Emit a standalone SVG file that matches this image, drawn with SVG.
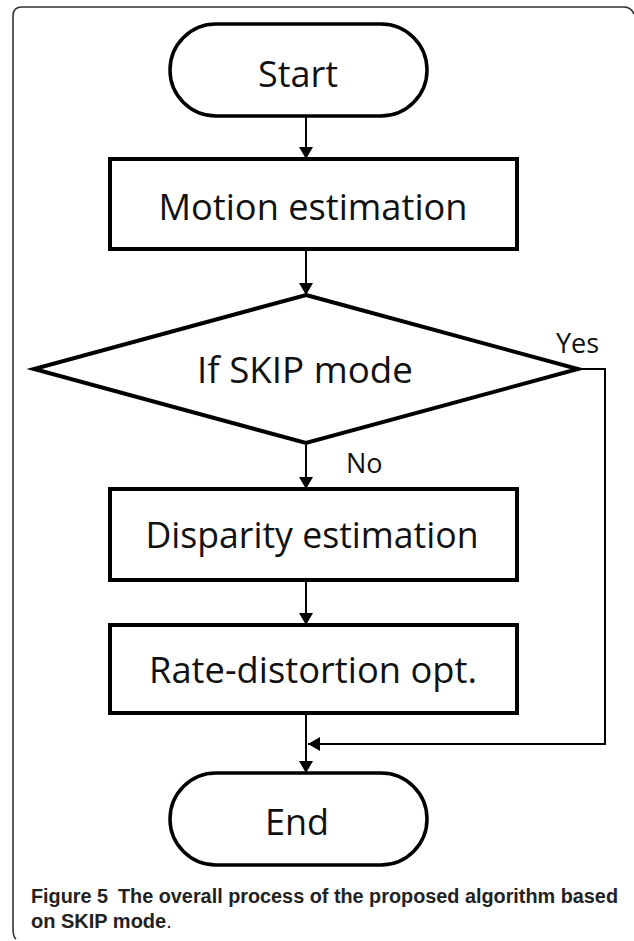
<svg xmlns="http://www.w3.org/2000/svg" width="634" height="941" viewBox="0 0 634 941">
<defs>
<style>
.shape{fill:#fff;stroke:#000;stroke-width:4}
.pill{fill:#fff;stroke:#000;stroke-width:3.5}
.lbl{font-family:"Open Sans","Noto Sans",sans-serif;font-size:36px;fill:#111;text-anchor:middle}
.small{font-family:"Open Sans","Noto Sans",sans-serif;font-size:27px;fill:#111}
.conn{fill:none;stroke:#000;stroke-width:2}
.cap{font-family:"Liberation Sans",Arial,sans-serif;font-size:20px;fill:#222;font-weight:700}
</style>
<marker id="ah" viewBox="0 0 12 14" refX="12" refY="7" markerWidth="12" markerHeight="14" markerUnits="userSpaceOnUse" orient="auto">
<path d="M0,0 L12,7 L0,14 Z" fill="#000"/>
</marker>
</defs>
<rect width="634" height="941" fill="#fff"/>
<path d="M634,14 Q631,7 624,7 H22 Q13,7 13,16 V928 Q13,937 16,939" fill="none" stroke="#333" stroke-width="1.6"/>
<g id="connectors">
<line class="conn" x1="306" y1="117" x2="306" y2="159" marker-end="url(#ah)"/>
<line class="conn" x1="306" y1="251" x2="306" y2="295" marker-end="url(#ah)"/>
<line class="conn" x1="306" y1="445" x2="306" y2="489" marker-end="url(#ah)"/>
<line class="conn" x1="306" y1="582" x2="306" y2="625" marker-end="url(#ah)"/>
<line class="conn" x1="306" y1="715" x2="306" y2="773" marker-end="url(#ah)"/>
<polyline class="conn" points="578,369 605,369 605,744 308,744" marker-end="url(#ah)"/>
<text class="small" x="556" y="353">Yes</text>
<text class="small" x="346" y="473">No</text>
</g>
<g id="start">
<rect class="pill" x="170" y="24" width="257" height="92" rx="46" ry="46"/>
<text class="lbl" x="298" y="87">Start</text>
</g>
<g id="motion">
<rect class="shape" x="110" y="159" width="407" height="90"/>
<text class="lbl" x="313" y="220" textLength="309" lengthAdjust="spacingAndGlyphs">Motion estimation</text>
</g>
<g id="skip">
<polygon class="shape" points="306,295 578,369 306,443 34,369"/>
<text class="lbl" x="305" y="383" textLength="216" lengthAdjust="spacingAndGlyphs">If SKIP mode</text>
</g>
<g id="disparity">
<rect class="shape" x="110" y="489" width="407" height="91"/>
<text class="lbl" x="312" y="548" textLength="333" lengthAdjust="spacingAndGlyphs">Disparity estimation</text>
</g>
<g id="rd">
<rect class="shape" x="110" y="625" width="407" height="88"/>
<text class="lbl" x="313" y="683" textLength="328" lengthAdjust="spacingAndGlyphs">Rate-distortion opt.</text>
</g>
<g id="end">
<rect class="pill" x="170" y="773" width="257" height="92" rx="46" ry="46"/>
<text class="lbl" x="297" y="835">End</text>
</g>
<g id="caption">
<text class="cap" x="31" y="903" textLength="77" lengthAdjust="spacingAndGlyphs">Figure 5</text>
<text class="cap" x="118" y="903" textLength="500" lengthAdjust="spacingAndGlyphs">The overall process of the proposed algorithm based</text>
<text class="cap" x="31" y="928">on SKIP mode<tspan font-weight="400">.</tspan></text>
</g>
</svg>
